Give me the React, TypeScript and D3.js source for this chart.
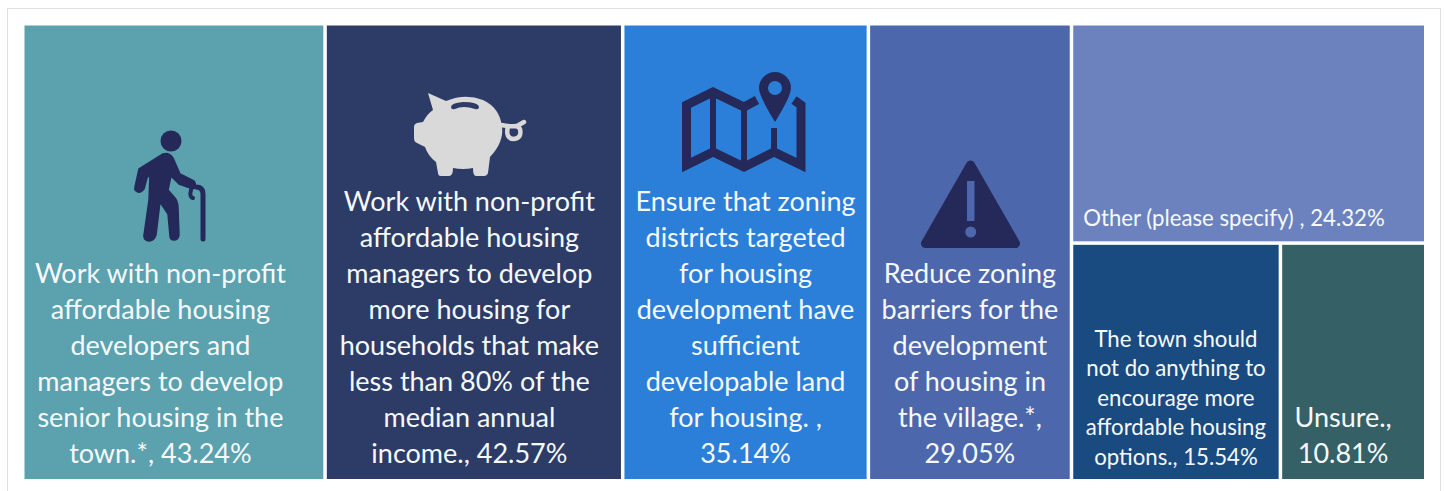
import React from 'react';
import * as d3 from 'd3';

const WIDTH = 1445;
const HEIGHT = 491;

// survey answers
const categories = [
  ['Work with non-profit', 'affordable housing', 'developers and', 'managers to develop', 'senior housing in the', 'town.*,'],
  ['Work with non-profit', 'affordable housing', 'managers to develop', 'more housing for', 'households that make', 'less than 80% of the', 'median annual', 'income.,'],
  ['Ensure that zoning', 'districts targeted', 'for housing', 'development have', 'sufficient', 'developable land', 'for housing. ,'],
  ['Reduce zoning', 'barriers for the', 'development', 'of housing in', 'the village.*,'],
  ['Other (please specify) ,'],
  ['The town should', 'not do anything to', 'encourage more', 'affordable housing', 'options.,'],
  ['Unsure.,'],
];
const values = [43.24, 42.57, 35.14, 29.05, 24.32, 15.54, 10.81];
const colors = ['#5ba1ae', '#2c3c67', '#2b7fd8', '#4c67ac', '#6b82bf', '#1a4b80', '#356066'];

const ICON_DARK = '#252959';
const ICON_LIGHT = '#d9d9d9';

// label placement per tile: centre offset, size, line step, baseline above tile bottom
const labelStyle = [
  { dx: -13.5, size: 27, step: 36, bottom: 16, ownLine: false, anchor: 'middle' },
  { dx: -4.5, size: 27, step: 36, bottom: 16, ownLine: false, anchor: 'middle' },
  { dx: 0, size: 27, step: 36, bottom: 16, ownLine: true, anchor: 'middle' },
  { dx: 0, size: 27, step: 36, bottom: 16, ownLine: true, anchor: 'middle' },
  { dx: 0, size: 22.2, step: 29.5, bottom: 15, ownLine: false, anchor: 'start' },
  { dx: 0, size: 22.2, step: 29.5, bottom: 14, ownLine: false, anchor: 'middle' },
  { dx: -10, size: 27, step: 36, bottom: 16, ownLine: true, anchor: 'middle' },
];

type Leaf = { index: number };
type Group = { children: (Leaf | Group)[] };

// columns left to right, the last one split into a top tile and a bottom pair
const tree: Group = {
  children: [
    { index: 0 },
    { index: 1 },
    { index: 2 },
    { index: 3 },
    { children: [{ index: 4 }, { children: [{ index: 5 }, { index: 6 }] }] },
  ],
};

const root = d3
  .hierarchy<any>(tree)
  .sum((d) => (d.index === undefined ? 0 : values[d.index]));

const layout = d3
  .treemap<any>()
  .size([1399.5, 453.5])
  .paddingInner(3.5)
  .tile((node, x0, y0, x1, y1) => {
    if (node.depth === 1) d3.treemapSlice(node, x0, y0, x1, y1);
    else d3.treemapDice(node, x0, y0, x1, y1);
  });

const leaves = layout(root).leaves();

// icons were traced in page coordinates, the parent group is undone here
const Traced = ({ children }: { children: React.ReactNode }) => (
  <g transform="translate(-24.5,-25.5)">{children}</g>
);

const Walker = () => (
  <Traced>
    <circle cx={171} cy={141} r={10.5} fill={ICON_DARK} />
    <path
      fill={ICON_DARK}
      strokeLinejoin="round"
      stroke={ICON_DARK}
      strokeWidth={1.5}
      d="M163 154 Q169 152 173 158 L180 174 L194 181 Q197 185 193 189 L179 184 L171 176 L168 190 L175 198 Q178 202 178 208 L179 235 Q178 240 174 240 Q170 240 170 236 L168 214 L160 202 L156 235 Q154 241 149 241 Q143 240 144 235 L149 200 L150 174 L147 178 L144 189 Q141 193 138 192 Q134 191 135 187 L139 169 Z"
    />
    <path
      fill="none"
      stroke={ICON_DARK}
      strokeWidth={5}
      strokeLinecap="round"
      d="M203 239 V194 Q203 187 196 187"
    />
    <path
      fill="none"
      stroke={ICON_DARK}
      strokeWidth={4}
      strokeLinecap="round"
      d="M191 190 Q189 197 193 198"
    />
  </Traced>
);

const Piggy = () => (
  <Traced>
    <path
      fill={ICON_LIGHT}
      d="M428 93 L446 101 Q465 93 483 100 Q500 108 502 127 Q504 142 490 157 L488 173 Q487 176 484 176 L476 176 Q473 176 473 168 Q463 170 453 168 Q453 176 449 176 L441 176 Q438 176 438 173 L436 162 Q428 156 425 147 L417 143 Q414 142 414 138 L414 127 Q414 124 417 123 L423 122 Q427 114 433 110 Z"
    />
    <path fill="#2c3c67" d="M451 107 Q451 103 463 102 Q478 102 479 107 Q479 110 475 109 Q463 105 455 109 Q451 110 451 107 Z" />
    <path
      fill="none"
      stroke={ICON_LIGHT}
      strokeWidth={4.5}
      strokeLinecap="round"
      d="M501 125 Q512 127 517 126 L524 122 M508 126 Q505 139 514 139 Q522 138 520 129 Q518 126 515 126"
    />
  </Traced>
);

const MapPin = () => (
  <Traced>
    <path
      fill="none"
      stroke={ICON_DARK}
      strokeWidth={9}
      d="M757 100 L744 107 L713 92 L686.5 105 V165 L713 152 L744 167 L774 152 L801 165 V105 L794 100"
    />
    <path fill="none" stroke={ICON_DARK} strokeWidth={6} d="M713 92 V152 M744 107 V167 M774 128 V152" />
    <path
      fill={ICON_DARK}
      fillRule="evenodd"
      d="M775 122 Q759 96 759 88 A16 16 0 0 1 791 88 Q791 96 775 122 Z M775 81 A7 7 0 1 0 775 95 A7 7 0 1 0 775 81 Z"
    />
  </Traced>
);

const Warning = () => (
  <Traced>
    <path
      fill={ICON_DARK}
      stroke={ICON_DARK}
      strokeWidth={9}
      strokeLinejoin="round"
      d="M970.5 165 L1015.5 243.5 L925.5 243.5 Z"
    />
    <rect x={967} y={181} width={7.5} height={40} fill={colors[3]} />
    <circle cx={970.7} cy={232} r={5.5} fill={colors[3]} />
  </Traced>
);

const Tile = ({ leaf }: { leaf: d3.HierarchyRectangularNode<any> }) => {
  const i: number = leaf.data.index;
  const s = labelStyle[i];
  const pct = `${values[i].toFixed(2)}%`;
  const lines = [...categories[i]];
  if (s.ownLine) lines.push(pct);
  else lines[lines.length - 1] += ` ${pct}`;
  const w = leaf.x1 - leaf.x0;
  const h = leaf.y1 - leaf.y0;
  const tx = s.anchor === 'start' ? 10 : w / 2 + s.dx;
  return (
    <g transform={`translate(${leaf.x0},${leaf.y0})`}>
      <rect width={w} height={h} fill={colors[i]} />
      <text
        fontFamily="Lato, 'Open Sans', sans-serif"
        fontSize={s.size}
        fill="#f6f9fb"
        textAnchor={s.anchor}
      >
        {lines.map((line, k) => (
          <tspan key={k} x={tx} y={h - s.bottom - (lines.length - 1 - k) * s.step}>
            {line}
          </tspan>
        ))}
      </text>
    </g>
  );
};

export default function App() {
  return (
    <svg
      width={WIDTH}
      height={HEIGHT}
      style={{ position: 'absolute', left: 0, top: 0, background: '#fff', display: 'block' }}
    >
      <rect x={7.5} y={8.5} width={1433} height={520} fill="none" stroke="#e0e0e0" strokeWidth={1} />
      <g transform="translate(24.5,25.5)">
        {leaves.map((leaf) => (
          <Tile key={leaf.data.index} leaf={leaf} />
        ))}
        <Walker />
        <Piggy />
        <MapPin />
        <Warning />
      </g>
    </svg>
  );
}
